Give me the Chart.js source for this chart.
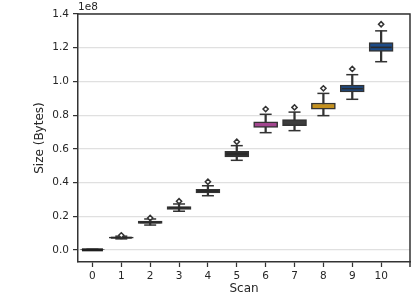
<!DOCTYPE html>
<html>
<head>
<meta charset="utf-8">
<script src="https://cdn.jsdelivr.net/npm/chart.js@4/dist/chart.umd.min.js"></script>
<style>
html,body{margin:0;padding:0;background:#fff;}
</style>
</head>
<body>
<canvas id="scanChart" width="412" height="296"></canvas>
<script>
/* =========================
   DATA (size in units of 1e8 bytes)
========================= */
var scans = [0, 1, 2, 3, 4, 5, 6, 7, 8, 9, 10];
var whiskerLow  = [0.000, 0.066, 0.148, 0.230, 0.322, 0.532, 0.696, 0.708, 0.797, 0.894, 1.117];
var q1          = [0.000, 0.070, 0.158, 0.241, 0.338, 0.552, 0.727, 0.737, 0.836, 0.938, 1.178];
var median      = [0.001, 0.073, 0.164, 0.250, 0.350, 0.570, 0.745, 0.755, 0.854, 0.957, 1.202];
var q3          = [0.003, 0.077, 0.171, 0.258, 0.360, 0.585, 0.760, 0.774, 0.872, 0.978, 1.230];
var whiskerHigh = [0.004, 0.082, 0.184, 0.273, 0.381, 0.619, 0.805, 0.818, 0.929, 1.040, 1.300];
var outliers    = [null, 0.087, 0.190, 0.289, 0.405, 0.642, 0.836, 0.846, 0.959, 1.074, 1.339];

var xTicks = [0, 1, 2, 3, 4, 5, 6, 7, 8, 9, 10];
var yTicks = [0.0, 0.2, 0.4, 0.6, 0.8, 1.0, 1.2, 1.4];

/* box colours */
var boxColors = ["#333333","#333333","#333333","#333333","#333333","#333333",
                 "#a3468f","#3d3d3d","#c4911f","#1d4b87","#1d4b87"];
var medianColors = ["#1e1e1e","#2a2a2a","#2a2a2a","#2a2a2a","#2a2a2a","#2a2a2a",
                    "#a3468f","#3d3d3d","#c4911f","#2a2a2a","#2a2a2a"];
var medianWidths = [3, 2, 2, 2, 2, 2, 2, 2, 2, 1.6, 1.6];

var ink = "#262626";
var line = "#333333";

/* build datasets from arrays */
var boxData = [], whiskerData = [], medianData = [], capData = [], outlierData = [];
for(var i=0;i<scans.length;i++){
    boxData.push({x:scans[i], y:[q1[i], q3[i]]});
    whiskerData.push({x:scans[i], y:[whiskerLow[i], whiskerHigh[i]]});
    medianData.push({x:scans[i], y:median[i]});
    capData.push({x:scans[i], y:whiskerLow[i]});
    capData.push({x:scans[i], y:whiskerHigh[i]});
    if(outliers[i]!==null){
        outlierData.push({x:scans[i], y:outliers[i]});
    }
}

/* top / right spines + offset label */
var framePlugin = {
    id:"frame",
    afterDatasetsDraw:function(chart){
        var a = chart.chartArea, ctx = chart.ctx;
        ctx.save();
        ctx.strokeStyle = line;
        ctx.lineWidth = 1.5;
        ctx.beginPath();
        ctx.moveTo(a.left, a.top);
        ctx.lineTo(a.right, a.top);
        ctx.lineTo(a.right, a.bottom + 5);
        ctx.stroke();
        ctx.fillStyle = ink;
        ctx.font = '10.5px "DejaVu Sans"';
        ctx.textAlign = "left";
        ctx.textBaseline = "bottom";
        ctx.fillText("1e8", a.left, a.top - 1);
        ctx.restore();
    }
};

var ctx = document.getElementById("scanChart").getContext("2d");

new Chart(ctx,{
type:"bar",
data:{
datasets:[
{
    type:"scatter",
    data:outlierData,
    pointStyle:"rectRot",
    radius:2.6,
    backgroundColor:"#ffffff",
    borderColor:line,
    borderWidth:1.5,
    order:0
},
{
    type:"scatter",
    data:medianData,
    pointStyle:"line",
    radius:10.5,
    borderColor:medianColors,
    borderWidth:medianWidths,
    order:1
},
{
    type:"bar",
    data:boxData,
    backgroundColor:boxColors,
    borderColor:line,
    borderWidth:1.5,
    borderSkipped:false,
    barThickness:24,
    grouped:false,
    order:2
},
{
    type:"scatter",
    data:capData,
    pointStyle:"line",
    radius:6,
    borderColor:line,
    borderWidth:1.5,
    order:3
},
{
    type:"bar",
    data:whiskerData,
    backgroundColor:line,
    borderWidth:0,
    barThickness:1.6,
    grouped:false,
    order:4
}
]
},
options:{
responsive:false,
devicePixelRatio:1,
animation:false,
layout:{autoPadding:false, padding:{top:14, right:2, left:0, bottom:0}},
plugins:{
    legend:{display:false},
    tooltip:{enabled:false}
},
scales:{
    x:{
        type:"linear",
        min:-0.5,
        max:11,
        offset:false,
        afterBuildTicks:function(s){
            s.ticks = xTicks.map(function(v){ return {value:v}; });
        },
        afterFit:function(s){ s.height = 34; s.paddingLeft = 0; s.paddingRight = 0; },
        grid:{display:true, drawOnChartArea:false, offset:false, tickColor:line, tickLength:5, tickWidth:1.25},
        border:{color:line, width:1.5},
        ticks:{
            color:ink,
            font:{family:"DejaVu Sans", size:10.5},
            padding:3,
            maxRotation:0,
            autoSkip:false,
            callback:function(v){ return String(v); }
        },
        title:{display:true, text:"Scan", color:ink, font:{family:"DejaVu Sans", size:12}, padding:{top:0,bottom:0}}
    },
    y:{
        type:"linear",
        min:-0.0712,
        max:1.4,
        afterBuildTicks:function(s){
            s.ticks = yTicks.map(function(v){ return {value:v}; });
        },
        afterFit:function(s){ s.width = 78; s.paddingTop = 0; s.paddingBottom = 0; },
        grid:{color:"#e0e0e0", lineWidth:1.2, tickColor:line, tickLength:5, tickWidth:1.25},
        border:{color:line, width:1.5},
        ticks:{
            color:ink,
            font:{family:"DejaVu Sans", size:10.5},
            padding:4,
            callback:function(v){ return v.toFixed(1); }
        },
        title:{display:true, text:"Size (Bytes)", color:ink, font:{family:"DejaVu Sans", size:12}, padding:{top:33,bottom:0}}
    }
}
},
plugins:[framePlugin]
});
</script>
</body>
</html>
